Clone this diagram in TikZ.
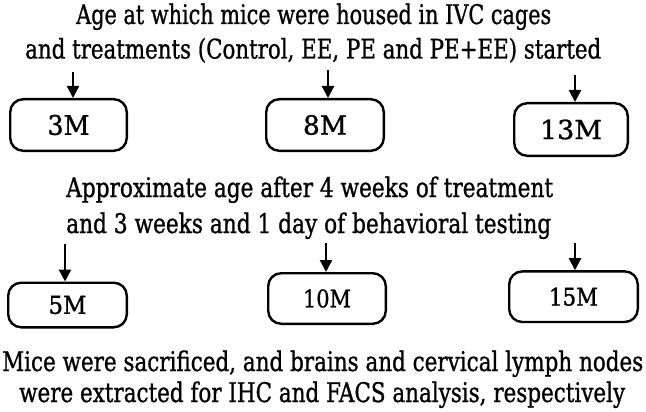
\documentclass[tikz,border=0pt]{standalone}
\usepackage{fontspec}
\setmainfont{DejaVu Serif Condensed}
\newfontfamily\heavyfont{DejaVu Serif Condensed}[FakeBold=1]
\usetikzlibrary{arrows.meta}
\newcommand{\fitw}[2]{\resizebox{#1}{\height}{#2}}
\newcommand{\fitwh}[3]{\resizebox{#1}{#2}{#3}}
\begin{document}
\begin{tikzpicture}[x=1pt,y=-1pt,
  txt/.style={inner sep=0pt, anchor=base west, font=\heavyfont\fontsize{27}{27}\selectfont},
  agebox/.style={draw, line width=2.4pt, rounded corners=13pt, inner sep=0pt, align=center, font=\heavyfont},
  arr/.style={line width=2.3pt, -{Triangle[width=12pt,length=12pt]}}]
\fill[white] (0,0) rectangle (646,412);
\useasboundingbox (0,0) rectangle (646,412);
% texts
\node[txt] (t1) at (76,24) {\fitw{475pt}{Age at which mice were housed in IVC cages}};
\node[txt] (t2) at (25,58.5) {\fitw{576pt}{and treatments (Control, EE, PE and PE+EE) started}};
\node[txt] (m1) at (66,197) {\fitw{487pt}{Approximate age after 4 weeks of treatment}};
\node[txt] (m2) at (66,233) {\fitw{485pt}{and 3 weeks and 1 day of behavioral testing}};
\node[txt] (s1) at (2,371) {\fitw{641pt}{Mice were sacrificed, and brains and cervical lymph nodes}};
\node[txt] (s2) at (19,402) {\fitw{606pt}{were extracted for IHC and FACS analysis, respectively}};
% boxes
\node[agebox, minimum width=116.6pt, minimum height=51.6pt] (b1) at (68.5,125) {\fitwh{42pt}{20pt}{3M}};
\node[agebox, minimum width=117.6pt, minimum height=51.6pt] (b2) at (325,125) {\fitwh{44pt}{19.5pt}{8M}};
\node[agebox, minimum width=113.6pt, minimum height=52.6pt] (b3) at (571,129.5) {\fitwh{62pt}{19.5pt}{13M}};
\node[agebox, minimum width=118.6pt, minimum height=44.6pt] (b4) at (67.5,305) {\fitwh{38pt}{18pt}{5M}};
\node[agebox, minimum width=117.6pt, minimum height=50.6pt] (b5) at (327,298.5) {\fitwh{48pt}{18pt}{10M}};
\node[agebox, minimum width=128.6pt, minimum height=50.6pt] (b6) at (573.5,296.7) {\fitwh{49pt}{18pt}{15M}};
% arrows
\coordinate (a1) at (73,72);
\coordinate (a2) at (328,70);
\coordinate (a3) at (575,75);
\coordinate (a4) at (65,244);
\coordinate (a5) at (326,243);
\coordinate (a6) at (575,243);
\draw[arr] (a1) -- (a1 |- b1.north);
\draw[arr] (a2) -- (a2 |- b2.north);
\draw[arr] (a3) -- (a3 |- b3.north);
\draw[arr] (a4) -- (a4 |- b4.north);
\draw[arr] (a5) -- (a5 |- b5.north);
\draw[arr] (a6) -- (a6 |- b6.north);
\end{tikzpicture}
\end{document}
